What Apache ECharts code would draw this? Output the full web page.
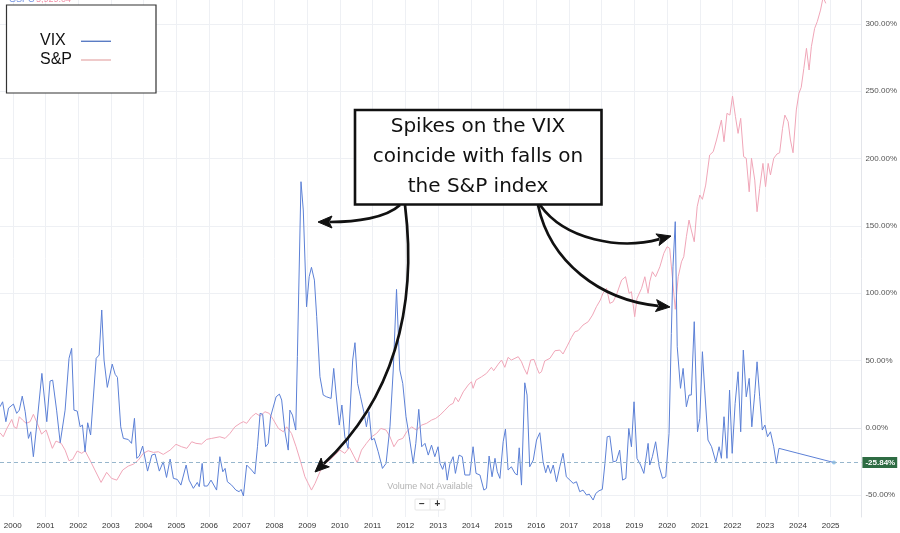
<!DOCTYPE html>
<html>
<head>
<meta charset="utf-8">
<script src="https://cdn.jsdelivr.net/npm/echarts@6/dist/echarts.min.js"></script>
<style>
html,body{margin:0;padding:0;background:#fff;}
#chart{width:900px;height:533px;}
</style>
</head>
<body>
<div id="chart"></div>
<script>
// ---- data (decimal year, % change) ----
const xTicks = [2000,2001,2002,2003,2004,2005,2006,2007,2008,2009,2010,2011,2012,2013,2014,2015,2016,2017,2018,2019,2020,2021,2022,2023,2024,2025];
const yTicks = [-50,0,50,100,150,200,250,300];

const vixPoints = [
[1999.61,15.6],[1999.69,19.3],[1999.79,4.5],[1999.87,14.6],[2000.02,17.6],[2000.12,10.7],[2000.20,13.1],[2000.29,23.5],[2000.38,11.9],[2000.48,-7.9],[2000.55,-3],[2000.63,-21.5],[2000.75,5.7],[2000.89,40.4],[2001.04,4.5],[2001.14,34.7],[2001.22,35.4],[2001.34,13.1],[2001.45,-11.1],[2001.60,13.1],[2001.72,51.6],[2001.80,59],[2001.87,13.1],[2001.97,12.4],[2002.06,0.7],[2002.13,2],[2002.21,-17.8],[2002.29,3.7],[2002.38,-5.4],[2002.55,51.6],[2002.64,54],[2002.72,87.5],[2002.79,50.3],[2002.89,30],[2003.04,47.3],[2003.13,39.7],[2003.20,37.4],[2003.30,0.7],[2003.38,-7.9],[2003.53,-8.7],[2003.63,-11.6],[2003.72,7],[2003.79,-22.7],[2003.87,-21],[2003.97,-13.6],[2004.12,-32.2],[2004.25,-20.3],[2004.35,-19.5],[2004.48,-32.2],[2004.60,-25.3],[2004.70,-36.9],[2004.81,-23.3],[2004.91,-37.6],[2005.03,-38.4],[2005.14,-42.6],[2005.30,-27.7],[2005.39,-38.9],[2005.52,-45],[2005.64,-40.6],[2005.70,-43.8],[2005.79,-26.5],[2005.85,-43.3],[2005.95,-43.3],[2006.06,-38.9],[2006.23,-46.3],
[2006.33,-21.5],[2006.42,-32.7],[2006.49,-30.2],[2006.56,-40.1],[2006.69,-42.6],[2006.82,-46.3],[2006.92,-47.5],[2006.98,-45.8],[2007.05,-50.7],[2007.15,-27.7],[2007.30,-31.4],[2007.40,-34.4],[2007.48,-14.1],[2007.56,10.7],[2007.64,10],[2007.73,-14.1],[2007.81,-11.6],[2007.88,8.2],[2007.94,7],[2008.05,23],[2008.15,25],[2008.22,20.6],[2008.32,-3],[2008.42,-16.6],[2008.47,13.1],[2008.55,9.4],[2008.65,-1.7],[2008.70,52.8],[2008.81,182.8],[2008.88,161.8],[2008.98,89.9],[2009.06,112.2],[2009.13,119.2],[2009.22,109.7],[2009.29,82.5],[2009.39,37.9],[2009.49,24.3],[2009.59,23],[2009.73,21.8],[2009.81,44.1],[2009.90,20.6],[2009.98,2],[2010.06,16.9],[2010.15,-6.7],[2010.25,-15.3],[2010.39,50.3],[2010.46,63.2],[2010.54,33],[2010.63,23],[2010.73,11.9],[2010.81,0.7],[2010.89,11.9],[2010.97,-9.1],[2011.05,-7.9],[2011.17,-17.8],[2011.30,-30.2],[2011.41,-26.5],[2011.53,0.7],[2011.63,42.9],[2011.73,102.8],[2011.83,42.9],[2011.92,33],[2012.02,8.2],[2012.12,-6.7],[2012.24,-26.5],[2012.32,-11.6],[2012.41,13.7],[2012.50,-14.1],[2012.60,-11.6],[2012.70,-20.3],[2012.80,-12.9],[2012.90,-21.5],[2013.00,-14.1],
[2013.06,-26.5],[2013.14,-30.9],[2013.21,-25.3],[2013.28,-38.9],[2013.36,-27],[2013.46,-21.5],[2013.53,-33.9],[2013.64,-20.3],[2013.74,-21.5],[2013.82,-35.1],[2013.97,-35.1],[2014.07,-14.1],[2014.16,-33.9],[2014.28,-35.1],[2014.40,-46.3],[2014.48,-45],[2014.56,-21],[2014.65,-36.4],[2014.74,-22.7],[2014.81,-32.7],[2014.89,-37.6],[2014.99,-10.4],[2015.06,-1],[2015.14,-31.4],[2015.24,-29],[2015.35,-33.9],[2015.42,-35.1],[2015.48,-14.9],[2015.55,-42.6],[2015.65,33.4],[2015.72,24.3],[2015.80,-29],[2015.91,-24],[2016.01,-9.1],[2016.11,-3.7],[2016.21,-25.3],[2016.29,-33.4],[2016.36,-27.7],[2016.44,-33.9],[2016.52,-27.7],[2016.62,-40.1],[2016.72,-29],[2016.82,-19],[2016.92,-36.4],[2017.03,-38.9],[2017.13,-41.3],[2017.23,-40.1],[2017.33,-47.5],[2017.43,-46.3],[2017.54,-50],[2017.62,-49.3],[2017.74,-53.7],[2017.82,-48.8],[2017.92,-46.8],[2018.02,-45.8],[2018.10,-26.5],[2018.17,-6.7],[2018.25,-6.2],[2018.35,-25.3],[2018.45,-24.7],[2018.55,-16.6],[2018.64,-38.9],[2018.74,-37.6],[2018.83,-0.5],[2018.91,-14.1],[2018.99,19.3],[2019.08,-22.7],[2019.19,-27.7],[2019.29,-33.9],[2019.42,-11.6],
[2019.47,-27.7],[2019.55,-21.5],[2019.65,-10.4],[2019.76,-29],[2019.86,-37.6],[2019.96,-36.4],[2020.06,-4.2],[2020.13,70.1],[2020.18,119.6],[2020.25,153.1],[2020.31,60.2],[2020.41,29.3],[2020.49,44.1],[2020.59,15.6],[2020.67,24.3],[2020.74,24.3],[2020.83,78.8],[2020.93,-3],[2021.00,7],[2021.08,56.5],[2021.15,28],[2021.25,-9.1],[2021.36,-14.1],[2021.49,-25.3],[2021.59,-14.1],[2021.66,-22.7],[2021.74,8.2],[2021.83,-22.7],[2021.91,28],[2021.99,-19],[2022.08,18.1],[2022.17,41.6],[2022.25,-3],[2022.33,57.7],[2022.42,23],[2022.51,36.7],[2022.59,0.7],[2022.68,25.6],[2022.75,49],[2022.83,23],[2022.91,-1.7],[2022.99,2],[2023.07,-6.7],[2023.16,-3],[2023.26,-14.1],[2023.34,-26.5],[2023.42,-15.3],[2025.10,-25.84]
];

const spxPoints = [
[1999.61,-3.7],[1999.71,-6.7],[1999.82,-0.5],[1999.97,6.2],[2000.04,0.7],[2000.12,-0.5],[2000.20,8.2],[2000.30,5.7],[2000.41,3.3],[2000.53,4.5],[2000.63,10],[2000.75,3.3],[2000.88,-4.7],[2001.02,-1.7],[2001.21,-15.3],[2001.32,-9.9],[2001.48,-11.6],[2001.60,-16.6],[2001.72,-24.5],[2001.83,-23.5],[2001.97,-17.3],[2002.11,-19],[2002.21,-17.1],[2002.36,-24],[2002.51,-31.4],[2002.70,-40.6],[2002.87,-33.1],[2003.02,-37.6],[2003.18,-38.9],[2003.36,-31.4],[2003.53,-28.5],[2003.69,-27],[2003.84,-24],[2003.99,-19],[2004.14,-17.1],[2004.30,-18.3],[2004.45,-17.8],[2004.60,-19.8],[2004.81,-16.6],[2004.99,-12.3],[2005.16,-14.1],[2005.32,-15.3],[2005.47,-10.4],[2005.60,-11.6],[2005.77,-12.1],[2005.93,-8.6],[2006.08,-7.9],
[2006.33,-6.7],[2006.49,-7.9],[2006.64,-4.2],[2006.79,0.7],[2006.95,3.3],[2007.05,4.5],[2007.15,3.3],[2007.30,8.2],[2007.43,10.7],[2007.56,8.7],[2007.71,11.9],[2007.84,10.7],[2007.96,6.2],[2008.12,-0.5],[2008.27,-3],[2008.37,0.7],[2008.52,-4.2],[2008.66,-14.1],[2008.80,-25.3],[2008.93,-36.4],[2009.03,-41.3],[2009.13,-46.3],[2009.24,-41.3],[2009.39,-32.7],[2009.54,-26.5],[2009.69,-24],[2009.85,-20.3],[2010.00,-16.6],[2010.15,-19],[2010.29,-14.6],[2010.41,-20.3],[2010.53,-26],[2010.66,-16.6],[2010.81,-11.6],[2010.97,-6.7],[2011.12,-4.2],[2011.25,-0.5],[2011.41,-1.7],[2011.53,-6.7],[2011.65,-14.1],[2011.78,-9.1],[2011.92,-7.9],[2012.04,-3],[2012.19,0.7],[2012.34,-1.7],[2012.50,2],[2012.65,3.3],[2012.80,5.7],[2012.93,7],[2013.06,9.4],
[2013.21,13.1],[2013.36,16.9],[2013.46,18.1],[2013.53,22.6],[2013.62,19.3],[2013.77,26.7],[2013.92,31.7],[2014.02,34.2],[2014.07,29.3],[2014.16,35.4],[2014.33,37.9],[2014.48,40.4],[2014.63,44.9],[2014.70,42.4],[2014.84,47.3],[2014.94,50.3],[2015.04,44.9],[2015.14,52.3],[2015.24,50.3],[2015.35,51.6],[2015.45,52.8],[2015.55,49],[2015.63,44.1],[2015.72,39.7],[2015.83,50.3],[2015.93,50.8],[2016.01,45.3],[2016.09,40.4],[2016.16,41.6],[2016.26,49.6],[2016.42,51.6],[2016.57,57.2],[2016.72,57.7],[2016.82,54.8],[2016.96,61.4],[2017.08,67.2],[2017.18,71.3],[2017.28,72.1],[2017.43,76.3],[2017.59,78.8],[2017.72,83.7],[2017.84,89.9],[2017.96,94.9],[2018.04,99.9],[2018.15,103.6],[2018.25,92.4],[2018.35,93.6],[2018.45,98.6],[2018.61,109.7],[2018.73,112.2],[2018.84,99.9],[2018.91,101.1],[2019.01,82.5],[2019.08,96.1],[2019.22,103.6],[2019.32,112.2],[2019.42,99.9],
[2019.47,108.5],[2019.55,115.9],[2019.65,112.2],[2019.78,119.6],[2019.90,129.6],[2020.00,134.5],[2020.08,133.3],[2020.16,112.2],[2020.25,88],[2020.34,112.2],[2020.44,123.3],[2020.51,127.1],[2020.59,141.9],[2020.67,154.3],[2020.74,146.9],[2020.83,138.2],[2020.92,164.2],[2021.00,172.9],[2021.08,169.7],[2021.18,180.3],[2021.30,202.6],[2021.41,205.1],[2021.51,213.8],[2021.66,228.6],[2021.74,212.5],[2021.83,233.6],[2021.92,232.3],[2022.00,246.4],[2022.09,231.1],[2022.17,218.7],[2022.25,229.9],[2022.34,201.4],[2022.42,200.2],[2022.51,175.3],[2022.58,200.2],[2022.68,184],[2022.75,160.5],[2022.83,177.9],[2022.93,196.4],[2023.01,179.1],[2023.09,196.4],[2023.16,187.8],[2023.26,200.2],[2023.36,203.4],[2023.44,204.3],[2023.53,222.5],[2023.60,232.3],[2023.70,227.4],[2023.77,213.8],[2023.85,204.3],[2023.95,236.1],[2024.03,248.5],[2024.10,252.9],[2024.18,267],[2024.26,281.9],[2024.34,265.8],[2024.41,283.1],[2024.51,296.7],[2024.59,301.7],[2024.69,310.3],[2024.77,320],[2024.85,315.3]
];

const lastVix = vixPoints[vixPoints.length - 1];
const seriesNames = ['VIX', 'S&P'];
const headerText = ['GSPC', '5,929.04'];
const noteLines = ['Spikes on the VIX', 'coincide with falls on', 'the S&P index'];

const VIX_COLOR = '#5c80d6';
const SPX_COLOR = '#f0a6b8';
const FONT = '"Liberation Sans", Arial, Helvetica, sans-serif';
const NOTE_FONT = '20px "DejaVu Sans", sans-serif';

// ---- arrows helper ----
function arrow(p0, c1, c2, p3) {
  const dx = p3[0] - c2[0], dy = p3[1] - c2[1];
  const L = Math.hypot(dx, dy);
  const ux = dx / L, uy = dy / L;
  const hl = 14, hw = 6;
  const bx = p3[0] - ux * hl, by = p3[1] - uy * hl;
  return [
    { type: 'bezierCurve', z: 100, silent: true,
      shape: { x1: p0[0], y1: p0[1], cpx1: c1[0], cpy1: c1[1], cpx2: c2[0], cpy2: c2[1], x2: bx + ux * 2, y2: by + uy * 2 },
      style: { stroke: '#111', lineWidth: 2.7, fill: null } },
    { type: 'polygon', z: 101, silent: true,
      shape: { points: [[p3[0], p3[1]], [bx - uy * hw, by + ux * hw], [bx + ux * 3, by + uy * 3], [bx + uy * hw, by - ux * hw]] },
      style: { fill: '#111', stroke: '#111', lineWidth: 1 } }
  ];
}

const chart = echarts.init(document.getElementById('chart'), null, { renderer: 'canvas' });

const graphics = [
  // header text (mostly hidden under legend box)
  { type: 'text', z: 50, x: 9, y: 4, style: { text: headerText[0], fill: '#6f8fe0', font: '9px ' + FONT, textVerticalAlign: 'bottom' } },
  { type: 'text', z: 50, x: 36, y: 4, style: { text: headerText[1], fill: '#f28fa6', font: '9px ' + FONT, textVerticalAlign: 'bottom' } },
  // legend box
  { type: 'rect', z: 60, shape: { x: 6.5, y: 5, width: 149.5, height: 88 }, style: { fill: '#fff', stroke: '#333', lineWidth: 1.2 } },
  { type: 'text', z: 61, x: 40, y: 40.5, style: { text: seriesNames[0], fill: '#111', font: '16px ' + FONT, textVerticalAlign: 'middle' } },
  { type: 'text', z: 61, x: 40, y: 60, style: { text: seriesNames[1], fill: '#111', font: '16px ' + FONT, textVerticalAlign: 'middle' } },
  { type: 'line', z: 61, shape: { x1: 81, y1: 41.3, x2: 111, y2: 41.3 }, style: { stroke: '#5a7cc4', lineWidth: 1.4 } },
  { type: 'line', z: 61, shape: { x1: 81, y1: 60, x2: 111, y2: 60 }, style: { stroke: '#e9b3b3', lineWidth: 1.4 } },
  // annotation box
  { type: 'rect', z: 100, shape: { x: 355, y: 110, width: 246.5, height: 94.5 }, style: { fill: '#fff', stroke: '#111', lineWidth: 2.6 } },
  { type: 'text', z: 101, x: 478, y: 127, style: { text: noteLines[0], fill: '#111', font: NOTE_FONT, textAlign: 'center', textVerticalAlign: 'middle' } },
  { type: 'text', z: 101, x: 478, y: 157, style: { text: noteLines[1], fill: '#111', font: NOTE_FONT, textAlign: 'center', textVerticalAlign: 'middle' } },
  { type: 'text', z: 101, x: 478, y: 187, style: { text: noteLines[2], fill: '#111', font: NOTE_FONT, textAlign: 'center', textVerticalAlign: 'middle' } },
  ...arrow([400, 205], [386, 218], [356, 222], [318, 222]),
  ...arrow([405, 205], [418, 310], [392, 400], [315, 472]),
  ...arrow([540, 205], [565, 240], [620, 250], [671, 236]),
  ...arrow([538, 205], [550, 262], [600, 300], [670, 307]),
  // volume not available + zoom buttons
  { type: 'text', z: 50, x: 430, y: 487, style: { text: 'Volume Not Available', fill: '#b3b3b3', font: '9px ' + FONT, textAlign: 'center', textVerticalAlign: 'middle' } },
  { type: 'rect', z: 50, shape: { x: 415, y: 499, width: 30, height: 11, r: 1 }, style: { fill: '#fff', stroke: '#e6e6e6', lineWidth: 1 } },
  { type: 'line', z: 51, shape: { x1: 430, y1: 499, x2: 430, y2: 510 }, style: { stroke: '#e6e6e6', lineWidth: 1 } },
  { type: 'text', z: 51, x: 422, y: 504.5, style: { text: '−', fill: '#333', font: 'bold 10px ' + FONT, textAlign: 'center', textVerticalAlign: 'middle' } },
  { type: 'text', z: 51, x: 437.5, y: 504.5, style: { text: '+', fill: '#333', font: 'bold 10px ' + FONT, textAlign: 'center', textVerticalAlign: 'middle' } }
];

const option = {
  animation: false,
  backgroundColor: '#fff',
  grid: { left: 0, right: 38, top: 0, bottom: 16, containLabel: false },
  xAxis: {
    type: 'value', min: 1999.61, max: 2025.94,
    axisLine: { show: true, lineStyle: { color: '#e3e5ea', width: 1 } },
    axisTick: { show: false, customValues: xTicks },
    axisLabel: { customValues: xTicks, formatter: v => String(Math.round(v)), color: '#333', fontSize: 8, fontFamily: 'Liberation Sans', margin: 5 },
    splitLine: { show: true, lineStyle: { color: '#eef0f4', width: 1 } }
  },
  yAxis: {
    type: 'value', position: 'right', min: -66.3, max: 317.8,
    axisLine: { show: true, lineStyle: { color: '#e3e5ea', width: 1 } },
    axisTick: { show: false, customValues: yTicks },
    axisLabel: { customValues: yTicks, formatter: v => v.toFixed(2) + '%', color: '#555', fontSize: 8, fontFamily: 'Liberation Sans', margin: 4 },
    splitLine: { show: true, lineStyle: { color: '#eef0f4', width: 1 } }
  },
  series: [
    {
      name: seriesNames[1], type: 'line', data: spxPoints, showSymbol: false, z: 2,
      lineStyle: { color: SPX_COLOR, width: 1 }, itemStyle: { color: SPX_COLOR }, clip: true
    },
    {
      name: seriesNames[0], type: 'line', data: vixPoints, showSymbol: false, z: 3,
      lineStyle: { color: VIX_COLOR, width: 1 }, itemStyle: { color: VIX_COLOR }, clip: true,
      markLine: {
        silent: true, symbol: ['none', 'none'],
        lineStyle: { color: '#97b6cc', type: [4, 3], width: 1 },
        label: {
          show: true, position: 'end', distance: 1,
          formatter: p => Number(p.value).toFixed(2) + '%',
          backgroundColor: '#2e6c43', color: '#fff', fontSize: 8, fontWeight: 'bold',
          fontFamily: 'Liberation Sans', padding: [2, 2, 1, 3]
        },
        data: [{ yAxis: lastVix[1] }]
      }
    },
    {
      type: 'scatter', data: [lastVix], symbolSize: 4, z: 4,
      itemStyle: { color: '#7fb8e6' }
    }
  ],
  graphic: graphics
};

chart.setOption(option);
</script>
</body>
</html>
